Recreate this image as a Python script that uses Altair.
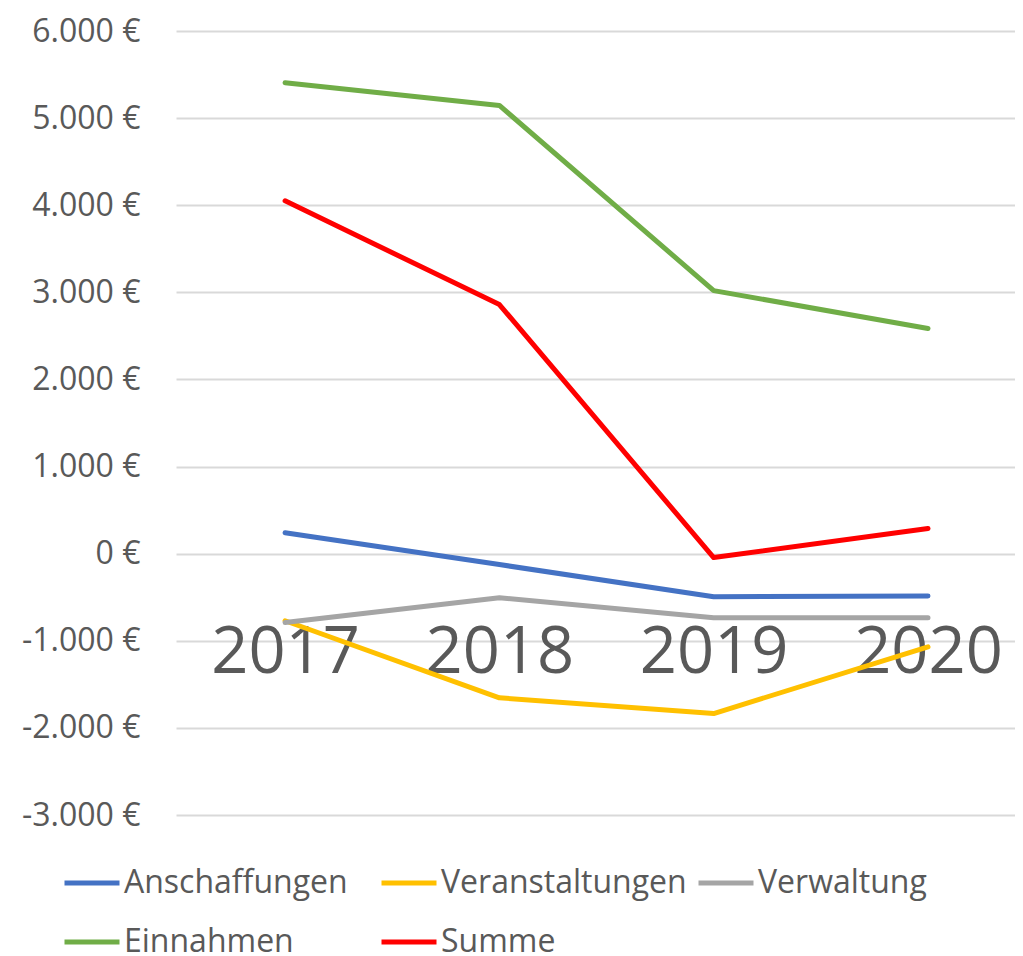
import altair as alt
import pandas as pd

years = [2017, 2018, 2019, 2020]
series_names = ["Anschaffungen", "Veranstaltungen", "Verwaltung", "Einnahmen", "Summe"]
anschaffungen = [240, -125, -495, -485]
veranstaltungen = [-770, -1655, -1835, -1070]
verwaltung = [-790, -505, -735, -735]
einnahmen = [5405, 5145, 3020, 2585]
summe = [4050, 2860, -45, 290]
colors = ["#4472C4", "#FFC000", "#A5A5A5", "#70AD47", "#FF0000"]

rows = []
for name, vals in zip(series_names, [anschaffungen, veranstaltungen, verwaltung, einnahmen, summe]):
    for y, v in zip(years, vals):
        rows.append({"Jahr": y, "Wert": v, "Serie": name})
df = pd.DataFrame(rows)

FONT = "Open Sans"
TXT = "#595959"

chart = alt.Chart(df).mark_line(strokeWidth=5, strokeCap="round", strokeJoin="round").encode(
    x=alt.X("Jahr:Q",
            scale=alt.Scale(domain=[2016.491, 2020.406], nice=False, zero=False),
            axis=alt.Axis(title=None, orient="bottom", offset=-261, domain=False, ticks=False,
                          grid=False, values=years, format="d", labelAngle=0, labelFontSize=65,
                          labelColor=TXT, labelFont=FONT, labelPadding=67, labelFlush=False,
                          labelOverlap=False)),
    y=alt.Y("Wert:Q",
            scale=alt.Scale(domain=[-3000, 6000], nice=False, zero=False),
            axis=alt.Axis(title=None, values=list(range(-3000, 6001, 1000)), domain=False, ticks=False,
                          gridColor="#D9D9D9", gridWidth=2, labelFontSize=32, labelColor=TXT,
                          labelFont=FONT, labelPadding=36,
                          labelExpr="(datum.value < 0 ? '-' : '') + replace(format(abs(datum.value), ',.0f'), ',', '.') + ' €'")),
    color=alt.Color("Serie:N", sort=series_names,
                    scale=alt.Scale(domain=series_names, range=colors),
                    legend=alt.Legend(title=None, orient="none", legendX=-114, legendY=822,
                                      direction="horizontal", columns=3, gridAlign="all",
                                      symbolType="stroke", symbolSize=3025, symbolStrokeWidth=5,
                                      labelFontSize=32, labelFont=FONT, labelColor=TXT,
                                      labelOffset=2, columnPadding=1, rowPadding=13,
                                      labelLimit=400)),
    order=alt.Order("Jahr:Q"),
).properties(
    width=839, height=784,
    autosize=alt.AutoSizeParams(type="none"),
    padding={"left": 168, "top": 23, "right": 0, "bottom": 141},
).configure_view(stroke=None)

chart.save("out.html", embed_options={"renderer": "svg", "actions": False})
